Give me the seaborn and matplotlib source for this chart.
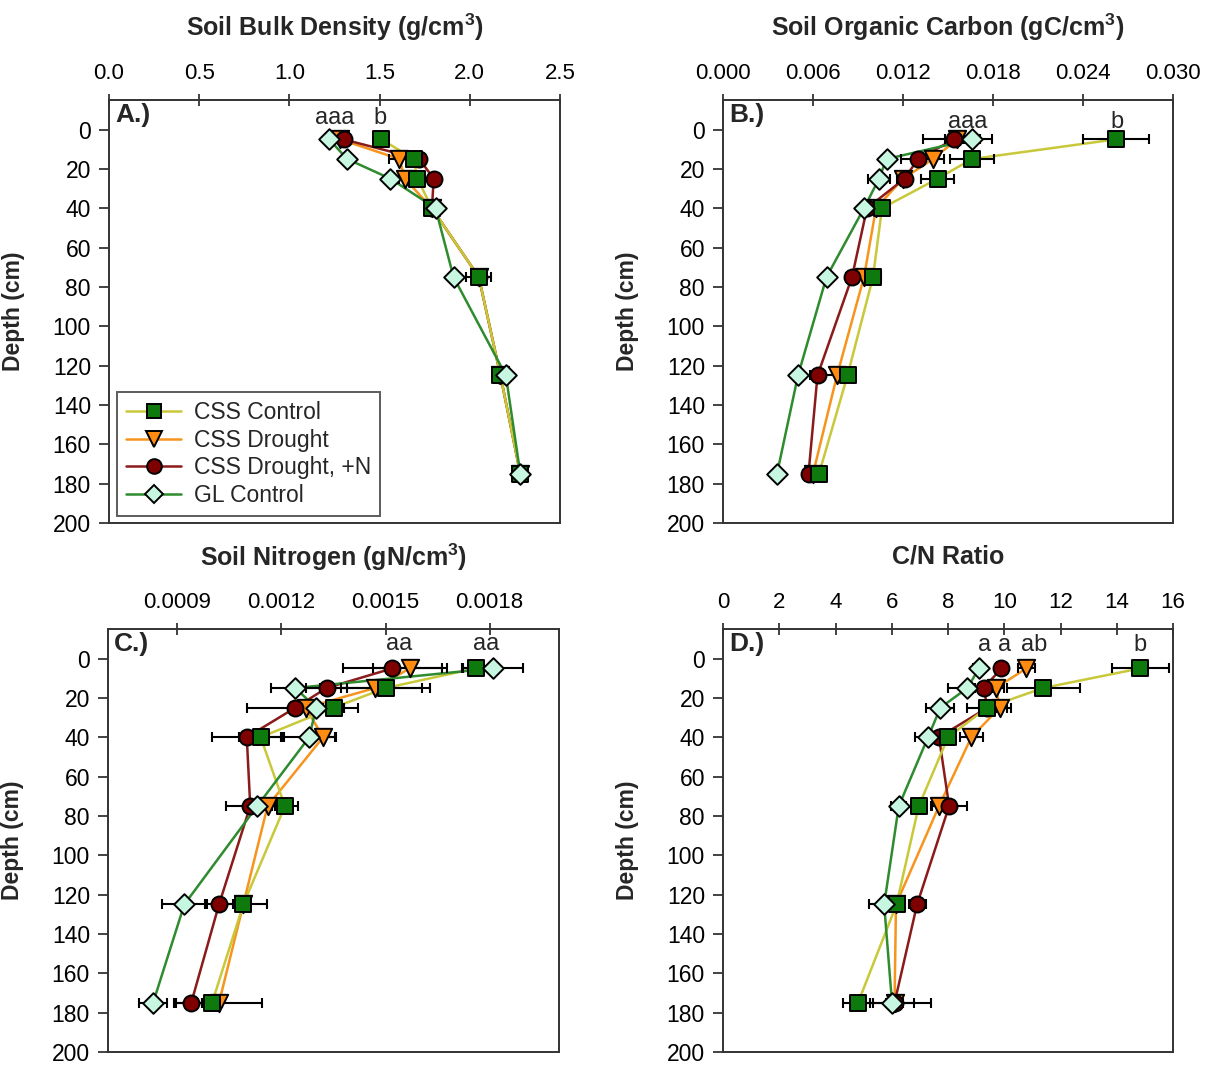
import numpy as np
import pandas as pd
import matplotlib
matplotlib.use("Agg")
import matplotlib.pyplot as plt
from matplotlib.lines import Line2D
import seaborn as sns

# ---------------- data ----------------
depths = [5, 15, 25, 40, 75, 125, 175]
treatments = ["CSS Control", "CSS Drought", "CSS Drought, +N", "GL Control"]

# A: soil bulk density (g/cm3)
bd_ctrl = [1.51, 1.69, 1.71, 1.79, 2.05, 2.17, 2.28]
bd_drought = [1.28, 1.61, 1.64, 1.79, 2.05, 2.17, 2.28]
bd_droughtN = [1.30, 1.72, 1.80, 1.79, 2.05, 2.17, 2.28]
bd_gl = [1.22, 1.32, 1.56, 1.81, 1.91, 2.20, 2.28]
bd_ctrl_err = [0.01, 0.02, 0.02, 0.02, 0.07, 0.04, 0.02]
bd_drought_err = [0.02, 0.06, 0.03, 0.02, 0.03, 0.02, 0.02]
bd_droughtN_err = [0.02, 0.02, 0.02, 0.02, 0.02, 0.02, 0.02]
bd_gl_err = [0.01, 0.01, 0.01, 0.02, 0.01, 0.02, 0.01]

# B: soil organic carbon (gC/cm3)
soc_ctrl = [0.0262, 0.0166, 0.0143, 0.0106, 0.0100, 0.0083, 0.0064]
soc_drought = [0.0156, 0.0140, 0.0120, 0.0102, 0.0094, 0.0076, 0.0060]
soc_droughtN = [0.0154, 0.0130, 0.0121, 0.0096, 0.0086, 0.0063, 0.0057]
soc_gl = [0.0166, 0.0109, 0.0104, 0.0094, 0.0069, 0.0050, 0.0036]
soc_ctrl_err = [0.0022, 0.00145, 0.00107, 0.0004, 0.0004, 0.0003, 0.0003]
soc_drought_err = [0.0023, 0.0007, 0.0004, 0.00055, 0.0011, 0.0008, 0.0007]
soc_droughtN_err = [0.0006, 0.00115, 0.0004, 0.0004, 0.0004, 0.0005, 0.0003]
soc_gl_err = [0.00055, 0.0003, 0.00073, 0.0003, 0.0003, 0.0002, 0.0002]

# C: soil nitrogen (gN/cm3)
n_ctrl = [0.00176, 0.00150, 0.00135, 0.00114, 0.00121, 0.00109, 0.00100]
n_drought = [0.00157, 0.00147, 0.00127, 0.00132, 0.00116, 0.00109, 0.00102]
n_droughtN = [0.00152, 0.00133, 0.00124, 0.00110, 0.00111, 0.00102, 0.00094]
n_gl = [0.00181, 0.00124, 0.00130, 0.00128, 0.00113, 0.00092, 0.00083]
n_ctrl_err = [0.00004, 0.000127, 0.000072, 0.000062, 0.000038, 0.000067, 0.00003]
n_drought_err = [0.000106, 0.000134, 0.00003, 0.000038, 0.00002, 0.00002, 0.000125]
n_droughtN_err = [0.000144, 0.000058, 0.00014, 0.0001, 0.00007, 0.00004, 0.00005]
n_gl_err = [0.000086, 0.00007, 0.00002, 0.000074, 0.00002, 0.000064, 0.000041]

# D: C/N ratio
cn_ctrl = [14.84, 11.38, 9.39, 8.00, 6.96, 6.17, 4.80]
cn_drought = [10.79, 9.70, 9.84, 8.83, 7.68, 6.15, 6.10]
cn_droughtN = [9.90, 9.27, 9.40, 7.68, 8.04, 6.90, 6.10]
cn_gl = [9.10, 8.69, 7.73, 7.29, 6.25, 5.73, 6.01]
cn_ctrl_err = [1.0, 1.3, 0.7, 0.2, 0.2, 0.3, 0.55]
cn_drought_err = [0.3, 0.3, 0.4, 0.41, 0.3, 0.2, 0.3]
cn_droughtN_err = [0.2, 0.3, 0.3, 0.3, 0.62, 0.3, 1.3]
cn_gl_err = [0.2, 0.69, 0.5, 0.47, 0.26, 0.53, 0.77]

# significance letters: (x value, text)
letters_A = [(1.25, "aaa"), (1.50, "b")]
letters_B = [(0.0163, "aaa"), (0.0263, "b")]
letters_C = [(0.00154, "aa"), (0.00179, "aa")]
letters_D = [(9.3, "a"), (10.0, "a"), (11.06, "ab"), (14.84, "b")]

# ---------------- styling ----------------
sns.set_style("white")
plt.rcParams["font.family"] = ["Liberation Sans", "DejaVu Sans"]
plt.rcParams["mathtext.fontset"] = "custom"
plt.rcParams["mathtext.rm"] = "Liberation Sans"
plt.rcParams["mathtext.bf"] = "Liberation Sans:bold"

line_colors = {"CSS Control": "#c8c83a", "CSS Drought": "#f7941d",
               "CSS Drought, +N": "#8b1a1a", "GL Control": "#2e8b2e"}
fill_colors = {"CSS Control": "#0e7a0e", "CSS Drought": "#ff8c10",
               "CSS Drought, +N": "#7f0000", "GL Control": "#c8f7e1"}
markers = {"CSS Control": "s", "CSS Drought": "v",
           "CSS Drought, +N": "o", "GL Control": "D"}
msizes = {"CSS Control": 11, "CSS Drought": 12.5,
          "CSS Drought, +N": 11.5, "GL Control": 10.5}
draw_order = ["CSS Drought", "CSS Drought, +N", "CSS Control", "GL Control"]

FS = 16
TFS = 18
W, H = 1213, 1066
fig = plt.figure(figsize=(W / 100, H / 100), dpi=100)

def box(l, t, r, b):
    return [l / W, 1 - b / H, (r - l) / W, (b - t) / H]

panels = [
    dict(rect=box(109, 100, 560, 523), vals=[bd_ctrl, bd_drought, bd_droughtN, bd_gl],
         errs=[bd_ctrl_err, bd_drought_err, bd_droughtN_err, bd_gl_err],
         xlim=(0, 2.5), xticks=np.arange(0, 2.51, 0.5), fmt="{:.1f}",
         title="Soil Bulk Density (g/cm$^{\\mathbf{3}}$)", letter="A.)",
         sig=letters_A, sigy=-3.0),
    dict(rect=box(723, 100, 1173, 523), vals=[soc_ctrl, soc_drought, soc_droughtN, soc_gl],
         errs=[soc_ctrl_err, soc_drought_err, soc_droughtN_err, soc_gl_err],
         xlim=(0, 0.030), xticks=np.arange(0, 0.0301, 0.006), fmt="{:.3f}",
         title="Soil Organic Carbon (gC/cm$^{\\mathbf{3}}$)", letter="B.)",
         sig=letters_B, sigy=-1.0),
    dict(rect=box(108, 629, 559, 1052), vals=[n_ctrl, n_drought, n_droughtN, n_gl],
         errs=[n_ctrl_err, n_drought_err, n_droughtN_err, n_gl_err],
         xlim=(0.0007, 0.0020), xticks=[0.0009, 0.0012, 0.0015, 0.0018], fmt="{:.4f}",
         title="Soil Nitrogen (gN/cm$^{\\mathbf{3}}$)", letter="C.)",
         sig=letters_C, sigy=-4.3),
    dict(rect=box(723, 629, 1173, 1052), vals=[cn_ctrl, cn_drought, cn_droughtN, cn_gl],
         errs=[cn_ctrl_err, cn_drought_err, cn_droughtN_err, cn_gl_err],
         xlim=(0, 16), xticks=np.arange(0, 16.1, 2), fmt="{:.0f}",
         title="C/N Ratio", letter="D.)",
         sig=letters_D, sigy=-3.8),
]

for i, p in enumerate(panels):
    ax = fig.add_axes(p["rect"])
    rows = []
    for t, v, e in zip(treatments, p["vals"], p["errs"]):
        for d, vv, ee in zip(depths, v, e):
            rows.append(dict(treatment=t, depth=d, value=vv, err=ee))
    df = pd.DataFrame(rows)
    df["order"] = df["treatment"].map({t: k for k, t in enumerate(draw_order)})
    df = df.sort_values(["order", "depth"], kind="stable")

    sns.lineplot(data=df, x="value", y="depth", hue="treatment", hue_order=draw_order,
                 palette=line_colors, sort=False, estimator=None, orient="y",
                 legend=False, linewidth=1.8, ax=ax, zorder=2)
    for t in draw_order:
        sub = df[df["treatment"] == t]
        ax.errorbar(sub["value"], sub["depth"], xerr=sub["err"], fmt="none",
                    ecolor="black", elinewidth=1.5, capsize=3.8, capthick=1.5, zorder=2.5)
    for k, t in enumerate(draw_order):
        sub = df[df["treatment"] == t]
        sns.scatterplot(data=sub, x="value", y="depth", marker=markers[t],
                        color=fill_colors[t], s=msizes[t] ** 2, edgecolor="black",
                        linewidth=1.4, legend=False, ax=ax, zorder=3 + k * 0.1)

    ax.set_xlim(*p["xlim"])
    ax.set_ylim(200, -15)
    ax.set_yticks(np.arange(0, 201, 20))
    ax.set_xticks(p["xticks"])
    ax.set_xticklabels([p["fmt"].format(x) for x in p["xticks"]])
    ax.xaxis.tick_top()
    ax.xaxis.set_label_position("top")
    ax.tick_params(axis="x", direction="inout", length=9, width=1.2, pad=7,
                   labelsize=FS, colors="#222222", labelcolor="black", bottom=False, top=True)
    ax.tick_params(axis="y", direction="out", length=7, width=1.2, pad=6,
                   labelsize=FS + 0.5, colors="#222222", labelcolor="black", left=True)
    for s in ax.spines.values():
        s.set_color("#333333")
        s.set_linewidth(1.4)
    ax.set_xlabel("")
    ax.set_ylabel("Depth (cm)", fontsize=FS + 0.5, fontweight="bold")
    ax.yaxis.set_label_coords(-0.186, 0.5)

    l, b, w, h = p["rect"]
    title_y = 1 - 27 / H if i < 2 else 1 - 557 / H
    fig.text(l + w / 2, title_y, p["title"], ha="center", va="center",
             fontsize=TFS, fontweight="bold")

    ax.text(0.013, 0.964, p["letter"], transform=ax.transAxes, ha="left", va="center",
            fontsize=19, fontweight="bold")
    for xv, txt in p["sig"]:
        ax.text(xv, p["sigy"], txt, ha="center", va="baseline", fontsize=17)

    if i == 0:
        handles = [Line2D([0], [0], color=line_colors[t], lw=1.8, marker=markers[t],
                          markersize=msizes[t] * 0.92, markerfacecolor=fill_colors[t],
                          markeredgecolor="black", markeredgewidth=1.4)
                   for t in treatments]
        leg = ax.legend(handles, treatments, loc="lower left",
                        bbox_to_anchor=(0.0177, 0.0165), borderaxespad=0,
                        fontsize=FS + 0.5, frameon=True, fancybox=False, handlelength=2.4,
                        handletextpad=0.55, labelspacing=0.2, borderpad=0.4)
        leg.get_frame().set_edgecolor("#333333")
        leg.get_frame().set_linewidth(1.4)

fig.savefig("out.png", dpi=100, facecolor="white")
